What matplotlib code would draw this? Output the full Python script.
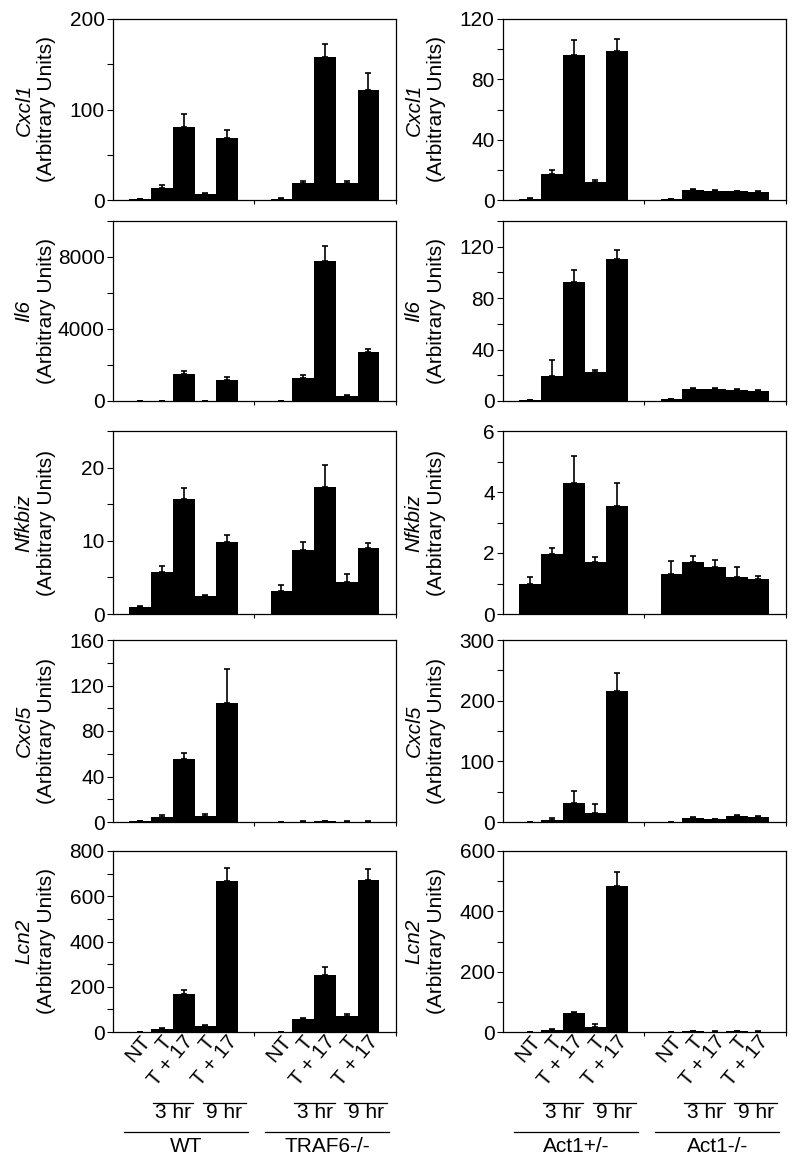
import matplotlib

matplotlib.use("Agg")
import matplotlib.pyplot as plt
import numpy as np

plt.rcParams["font.family"] = ["Liberation Sans", "DejaVu Sans"]

# ---- data ----
conds = ["NT", "T", "T + 17", "T", "T + 17"]
time_labels = ["3 hr", "9 hr"]
left_groups = ["WT", "TRAF6-/-"]
right_groups = ["Act1+/-", "Act1-/-"]
genes = ["Cxcl1", "Il6", "Nfkbiz", "Cxcl5", "Lcn2"]

# left column: WT (5 bars) then TRAF6-/- (5 bars)
cxcl1_left = [1, 13.5, 81, 7, 69, 1.5, 18.5, 158, 18.5, 121.5]
cxcl1_left_err = [0.5, 3, 14, 1, 8, 1, 2, 14, 2, 19]
il6_left = [10, 15, 1507, 15, 1172, 20, 1265, 7795, 260, 2698]
il6_left_err = [5, 5, 186, 5, 167, 5, 205, 800, 74, 167]
nfkbiz_left = [1.0, 5.7, 15.7, 2.5, 9.84, 3.19, 8.7, 17.36, 4.42, 9.07]
nfkbiz_left_err = [0.14, 0.87, 1.46, 0.14, 0.91, 0.82, 1.18, 2.96, 1.09, 0.68]
cxcl5_left = [0.6, 4.7, 55, 5.3, 104.4, 0.2, 0.3, 0.7, 0.3, 0.4]
cxcl5_left_err = [0.3, 1.2, 5.5, 2, 30, 0.2, 0.3, 0.5, 0.3, 0.3]
lcn2_left = [1, 14.7, 166, 25, 666, 0, 57, 251, 72, 672]
lcn2_left_err = [0.5, 4.4, 17.6, 4.4, 60, 0, 7, 35, 7, 47]

# right column: Act1+/- (5 bars) then Act1-/- (5 bars)
cxcl1_right = [0.7, 17.5, 96, 12.2, 98.8, 0.5, 6.6, 6.0, 5.7, 5.1]
cxcl1_right_err = [0.3, 2.4, 10, 1, 7.7, 0.2, 0.6, 0.8, 0.5, 0.6]
il6_right = [0.8, 19.2, 92.8, 22.6, 110.3, 1.2, 9, 9, 8.5, 7.4]
il6_right_err = [0.3, 12.8, 9.2, 1.8, 7, 0.3, 0.8, 0.9, 0.9, 0.9]
nfkbiz_right = [0.98, 1.97, 4.3, 1.72, 3.53, 1.32, 1.70, 1.54, 1.22, 1.14]
nfkbiz_right_err = [0.23, 0.19, 0.87, 0.15, 0.77, 0.43, 0.19, 0.22, 0.32, 0.1]
cxcl5_right = [0.5, 3.8, 31.8, 15.4, 215.6, 0.5, 6, 4.4, 9.3, 7.7]
cxcl5_right_err = [0.3, 2.7, 20, 14.8, 30.7, 0.3, 1.5, 1, 1.5, 1.5]
lcn2_right = [0.5, 8, 63, 15, 485, 0.5, 2, 1.5, 2, 1.5]
lcn2_right_err = [0.3, 2, 4, 12, 45, 0.3, 1, 1, 1, 1]

left_vals = [cxcl1_left, il6_left, nfkbiz_left, cxcl5_left, lcn2_left]
left_errs = [cxcl1_left_err, il6_left_err, nfkbiz_left_err, cxcl5_left_err, lcn2_left_err]
right_vals = [cxcl1_right, il6_right, nfkbiz_right, cxcl5_right, lcn2_right]
right_errs = [cxcl1_right_err, il6_right_err, nfkbiz_right_err, cxcl5_right_err, lcn2_right_err]

left_ymax = [200, 10000, 25, 160, 800]
left_step = [100, 4000, 10, 40, 200]
right_ymax = [120, 140, 6, 300, 600]
right_step = [40, 40, 2, 100, 200]

# bar positions: two groups of 5 adjacent bars with a 1.5-bar gap
xpos = np.concatenate([np.arange(5), np.arange(5) + 6.5])
FS = 15

W, H = 800, 1168
fig = plt.figure(figsize=(W / 100, H / 100), dpi=100)

row_px = [(19, 200), (221, 401), (431, 614), (640, 822), (851, 1032)]
col_px = [113, 503]
ax_w = 283


def draw_panel(ax, vals, errs, ymax, step, gene, bottom, groups):
    ax.bar(xpos, vals, width=1.0, color="black", edgecolor="black", linewidth=0)
    ax.errorbar(xpos, vals, yerr=[np.zeros(len(errs)), errs], fmt="none",
                ecolor="black", elinewidth=1.2, capsize=2.5, capthick=1.2)
    ax.set_xlim(-1.25, 11.77)
    ax.set_ylim(0, ymax)
    ax.set_yticks(np.arange(0, ymax + 1e-9, step))
    ax.set_yticks(np.arange(step / 2, ymax + 1e-9, step), minor=True)
    ax.tick_params(axis="y", which="both", direction="out", length=4,
                   width=0.8, labelsize=FS, pad=2)
    ax.set_xticks([5.25, 11.77])
    ax.set_xticklabels([])
    ax.tick_params(axis="x", direction="out", length=3, width=0.8)
    for s in ax.spines.values():
        s.set_linewidth(0.9)
        s.set_color("black")

    ax.text(-0.315, 0.5, gene, transform=ax.transAxes, rotation=90,
            ha="center", va="center", fontsize=FS, style="italic")
    ax.text(-0.235, 0.5, "(Arbitrary Units)", transform=ax.transAxes,
            rotation=90, ha="center", va="center", fontsize=FS)

    if not bottom:
        return
    tr = ax.get_xaxis_transform()
    for g, off in enumerate([0, 6.5]):
        for i, lab in enumerate(conds):
            ax.text(off + i + 0.3, -0.035, lab, transform=tr, rotation=50,
                    rotation_mode="anchor", ha="right", va="center",
                    fontsize=FS, clip_on=False)
        for (x0, x1), tl in zip([(0.6, 2.45), (2.9, 4.85)], time_labels):
            ax.plot([off + x0, off + x1], [-0.39, -0.39], transform=tr,
                    color="black", lw=0.9, clip_on=False)
            ax.text(off + (x0 + x1) / 2, -0.395, tl, transform=tr,
                    ha="center", va="top", fontsize=FS)
        ax.plot([off - 0.75, off + 4.95], [-0.555, -0.555], transform=tr,
                color="black", lw=0.9, clip_on=False)
        ax.text(off + 2.1, -0.58, groups[g], transform=tr, ha="center",
                va="top", fontsize=FS)


for r, (top, bot) in enumerate(row_px):
    for c, x0 in enumerate(col_px):
        ax = fig.add_axes([x0 / W, 1 - bot / H, ax_w / W, (bot - top) / H])
        if c == 0:
            draw_panel(ax, left_vals[r], left_errs[r], left_ymax[r],
                       left_step[r], genes[r], r == 4, left_groups)
        else:
            draw_panel(ax, right_vals[r], right_errs[r], right_ymax[r],
                       right_step[r], genes[r], r == 4, right_groups)

fig.savefig("out.png", dpi=100)
